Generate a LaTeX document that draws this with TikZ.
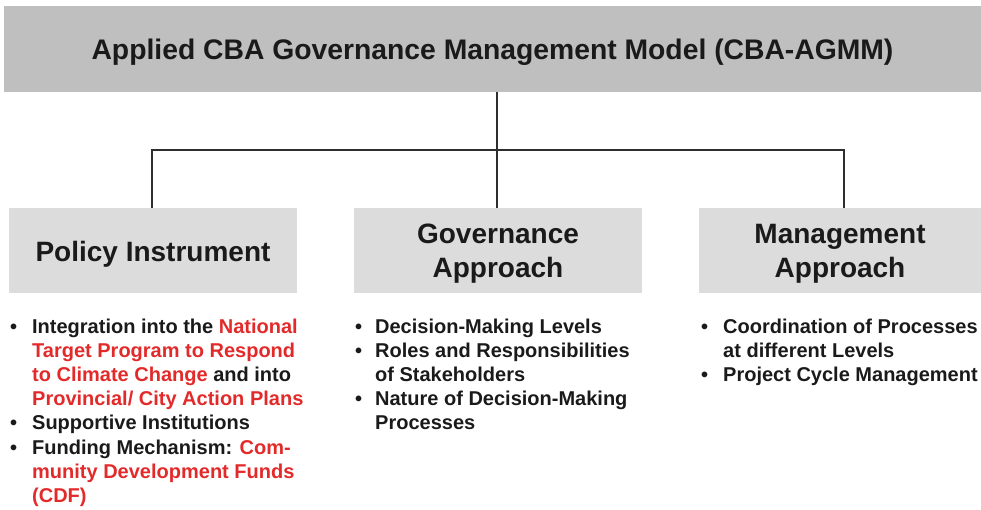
\documentclass[tikz,border=0pt]{standalone}
\usepackage{fontspec}
\setmainfont{Liberation Sans}
\definecolor{topgray}{HTML}{BFBFBF}
\definecolor{boxgray}{HTML}{DCDCDC}
\definecolor{redtext}{HTML}{E32A2A}
\definecolor{linegray}{HTML}{2E2E2E}
\definecolor{textblack}{HTML}{1A1A1A}
\newcommand{\rd}[1]{\textcolor{redtext}{#1}}
\newcommand{\bl}{\makebox[22pt][l]{\textbullet}}
\newcommand{\blg}{\makebox[20pt][l]{\textbullet}}
\begin{document}
\begin{tikzpicture}[x=1pt,y=-1pt,
  titlebox/.style={fill=topgray,minimum width=977pt,minimum height=86pt,inner sep=0pt},
  titletext/.style={inner sep=0pt,font=\fontsize{28.3}{32}\selectfont\bfseries,text=textblack},
  headbox/.style={fill=boxgray,minimum height=85pt,inner sep=0pt},
  headtext/.style={inner sep=0pt,align=center,
    font=\fontsize{28}{34}\selectfont\bfseries,text=textblack},
  bullets/.style={anchor=base west,inner sep=0pt,align=left,
    font=\fontsize{20}{24.2}\selectfont\bfseries,text=textblack},
  conn/.style={draw=linegray,line width=2pt}]
\useasboundingbox (0,0) rectangle (981,509);
\node[titlebox] (top) at (492.5,49) {};
\node[titletext] (topL) at ([yshift=-3pt]top.center) {Applied CBA Governance Management Model (CBA-AGMM)};
\node[headbox,minimum width=288pt] (pol) at (153,250.5) {};
\node[headbox,minimum width=288pt] (gov) at (498,250.5) {};
\node[headbox,minimum width=282pt] (mgt) at (840,250.5) {};
\node[headtext] (polL) at ([yshift=-3.5pt]pol.center) {Policy Instrument};
\node[headtext] (govL) at ([yshift=-3pt]gov.center) {Governance\\Approach};
\node[headtext] (mgtL) at ([yshift=-3pt]mgt.center) {Management\\Approach};
\coordinate (jm) at (497,150);
\coordinate (jl) at (152,150);
\coordinate (jr) at (844,150);
\draw[conn] (top.south -| jm) -- (jm);
\draw[conn] (jl |- pol.north) -- (jl) -- (jr) -- (jr |- mgt.north);
\draw[conn] (jm) -- (jm |- gov.north);
\node[bullets] (polt) at (10,333) {\begin{tabular}[t]{@{}l@{}l@{}}
\bl & Integration into the \rd{National}\\
 & \rd{Target Program to Respond}\\
 & \rd{to Climate Change} and into\\
 & \rd{Provincial/ City Action Plans}\\
\bl & Supportive Institutions\\
\bl & Funding Mechanism: \rd{Com-}\\
 & \rd{munity Development Funds}\\
 & \rd{(CDF)}
\end{tabular}};
\node[bullets] (govt) at (355,333) {\begin{tabular}[t]{@{}l@{}l@{}}
\blg & Decision-Making Levels\\
\blg & Roles and Responsibilities\\
 & of Stakeholders\\
\blg & Nature of Decision-Making\\
 & Processes
\end{tabular}};
\node[bullets] (mgtt) at (701,333) {\begin{tabular}[t]{@{}l@{}l@{}}
\bl & Coordination of Processes\\
 & at different Levels\\
\bl & Project Cycle Management
\end{tabular}};
\end{tikzpicture}
\end{document}
